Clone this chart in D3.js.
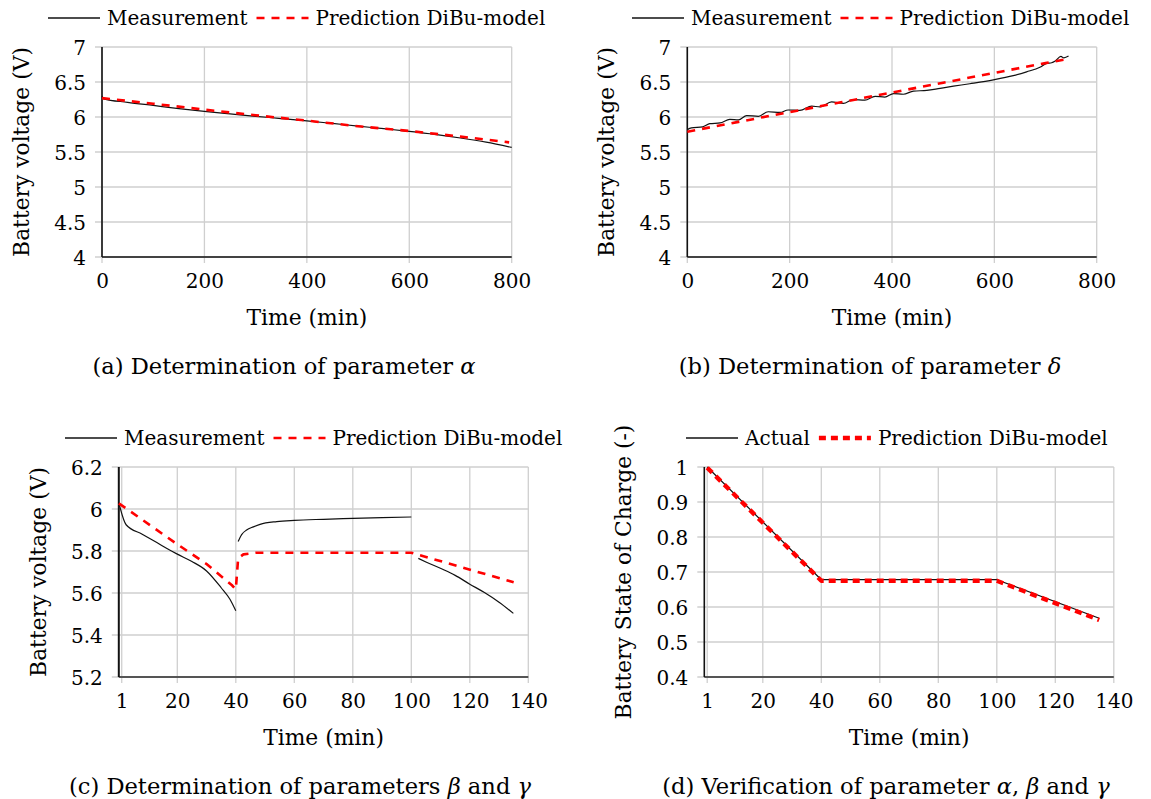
<!DOCTYPE html>
<html>
<head>
<meta charset="utf-8">
<script src="https://cdn.jsdelivr.net/npm/d3@7"></script>
<style>
  body { margin: 0; background: #fff; }
  text { font-family: 'DejaVu Serif', serif; fill: #000; }
</style>
</head>
<body>
<svg id="fig" width="1151" height="799"></svg>
<script>
// ---------- (a) discharge run, parameter alpha ----------
const timeA_meas = [0, 3, 50, 100, 150, 200, 250, 300, 350, 400, 450, 500, 550, 600, 650, 700, 750, 800];
const voltA_meas = [6.30, 6.26, 6.21, 6.165, 6.12, 6.08, 6.045, 6.01, 5.978, 5.945, 5.908, 5.87, 5.833, 5.795, 5.752, 5.70, 5.64, 5.565];
const timeA_pred = [0, 100, 200, 300, 400, 500, 600, 700, 795];
const voltA_pred = [6.27, 6.19, 6.105, 6.025, 5.948, 5.868, 5.80, 5.72, 5.638];

// ---------- (b) charge run, parameter delta ----------
const timeB_meas = [0, 8, 30, 44, 64, 83, 100, 116, 139, 158, 181, 197, 220, 243, 259, 282, 305, 324, 347, 367, 386, 403, 422, 442, 468, 494, 520, 552, 598, 637, 663, 689, 702, 712, 719, 730, 736, 745];
const voltB_meas = [5.82, 5.845, 5.86, 5.905, 5.915, 5.965, 5.96, 6.02, 6.01, 6.075, 6.065, 6.10, 6.095, 6.155, 6.145, 6.215, 6.195, 6.25, 6.24, 6.295, 6.285, 6.335, 6.325, 6.37, 6.38, 6.41, 6.44, 6.475, 6.53, 6.59, 6.645, 6.71, 6.765, 6.775, 6.80, 6.865, 6.845, 6.87];
const timeB_pred = [0, 100, 200, 300, 400, 500, 600, 700, 745];
const voltB_pred = [5.79, 5.93, 6.07, 6.21, 6.35, 6.49, 6.63, 6.77, 6.83];

// ---------- (c) pulsed run, parameters beta and gamma (null = gap) ----------
const timeC_meas = [0, 2.5, 8, 13, 18, 20, 25, 30, 35, 38, 40, null, 40.8, 42, 43.7, 46, 48.3, 54, 60, 70, 80, 90, 100, null, 102.4, 105, 110.9, 115, 120, 125, 130, 134.9];
const voltC_meas = [6.03, 5.925, 5.88, 5.84, 5.80, 5.785, 5.75, 5.705, 5.625, 5.57, 5.515, null, 5.845, 5.878, 5.90, 5.915, 5.927, 5.94, 5.946, 5.951, 5.955, 5.959, 5.962, null, 5.765, 5.748, 5.712, 5.684, 5.642, 5.602, 5.556, 5.503];
const timeC_pred = [0, 20, 30, 38.6, 40, 40.8, 42.6, 47, 100, 135];
const voltC_pred = [6.027, 5.832, 5.738, 5.638, 5.618, 5.765, 5.784, 5.792, 5.792, 5.651];

// ---------- (d) state of charge ----------
const timeD_act = [1, 40, 100, 135];
const socD_act = [1.0, 0.678, 0.678, 0.568];
const timeD_pred = [1, 40, 100, 135];
const socD_pred = [0.998, 0.675, 0.675, 0.563];

// ---------- tick labels ----------
const ticksVoltAB = [4, 4.5, 5, 5.5, 6, 6.5, 7];
const ticksTimeAB = [0, 200, 400, 600, 800];
const ticksVoltC = [5.2, 5.4, 5.6, 5.8, 6, 6.2];
const ticksSocD = [0.4, 0.5, 0.6, 0.7, 0.8, 0.9, 1];
const ticksTimeCD = [1, 20, 40, 60, 80, 100, 120, 140];

const svg = d3.select("#fig");
svg.append("rect").attr("width", 1151).attr("height", 799).attr("fill", "#fff");

const STYLES = {
  meas: { stroke: "#111", width: 1.2, dash: null },
  pred: { stroke: "#ff0000", width: 2.6, dash: "8,7" },
  predBold: { stroke: "#ff0000", width: 4.4, dash: "7,5" }
};

const TICK_FS = 20, LEGEND_FS = 20, TITLE_FS = 21.8, CAPTION_FS = 22.6;

function zip(ts, vs) { return ts.map((t, i) => [t, vs[i]]); }

function drawPanel(cfg) {
  const g = svg.append("g");
  const x = d3.scaleLinear().domain(cfg.xDomain).range([cfg.left, cfg.right]);
  const y = d3.scaleLinear().domain(cfg.yDomain).range([cfg.bottom, cfg.top]);

  // grid
  g.append("g").selectAll("line").data(cfg.xTicks).join("line")
    .attr("x1", d => x(d)).attr("x2", d => x(d))
    .attr("y1", cfg.top).attr("y2", cfg.bottom + 6)
    .attr("stroke", "#cfcfcf").attr("stroke-width", 1.3);
  g.append("g").selectAll("line").data(cfg.yTicks).join("line")
    .attr("x1", cfg.left - 7).attr("x2", cfg.right)
    .attr("y1", d => y(d)).attr("y2", d => y(d))
    .attr("stroke", "#cfcfcf").attr("stroke-width", 1.3);

  // axis lines
  g.append("line").attr("x1", cfg.left).attr("x2", cfg.right)
    .attr("y1", cfg.bottom).attr("y2", cfg.bottom)
    .attr("stroke", cfg.bottomColor).attr("stroke-width", cfg.bottomWidth);
  g.append("line").attr("x1", cfg.left).attr("x2", cfg.left)
    .attr("y1", cfg.top).attr("y2", cfg.bottom)
    .attr("stroke", "#111").attr("stroke-width", cfg.leftWidth);

  // tick labels
  const xa = d3.axisBottom(x).tickValues(cfg.xTicks).tickSize(0).tickPadding(0).tickFormat(d => String(d));
  const xg = g.append("g").attr("transform", `translate(0,${cfg.bottom})`).call(xa);
  xg.select(".domain").remove();
  xg.selectAll("text").attr("y", 31).attr("dy", null).attr("font-size", TICK_FS)
    .attr("font-family", "'DejaVu Serif', serif").attr("fill", "#000");

  const ya = d3.axisLeft(y).tickValues(cfg.yTicks).tickSize(0).tickPadding(0).tickFormat(d => String(d));
  const yg = g.append("g").attr("transform", `translate(${cfg.left},0)`).call(ya);
  yg.select(".domain").remove();
  yg.selectAll("text").attr("x", -16).attr("dy", "0.36em").attr("font-size", TICK_FS)
    .attr("font-family", "'DejaVu Serif', serif").attr("fill", "#000");

  // data lines
  cfg.series.forEach(s => {
    const st = STYLES[s.style];
    const line = d3.line()
      .defined(d => d[0] !== null && d[1] !== null)
      .x(d => x(d[0])).y(d => y(d[1]))
      .curve(s.smooth ? d3.curveMonotoneX : d3.curveLinear);
    g.append("path").datum(zip(s.t, s.v))
      .attr("d", line).attr("fill", "none")
      .attr("stroke", st.stroke).attr("stroke-width", st.width)
      .attr("stroke-dasharray", st.dash)
      .attr("stroke-linejoin", "round");
  });

  // axis titles
  g.append("text").attr("x", (cfg.left + cfg.right) / 2).attr("y", cfg.bottom + 68)
    .attr("text-anchor", "middle").attr("font-size", TITLE_FS).text("Time (min)");
  g.append("text")
    .attr("transform", `translate(${cfg.left - 73},${(cfg.top + cfg.bottom) / 2}) rotate(-90)`)
    .attr("text-anchor", "middle").attr("font-size", TITLE_FS).text(cfg.yTitle);

  // legend
  let lx = cfg.legendX;
  const ly = cfg.top - 29;
  cfg.legend.forEach(item => {
    const st = STYLES[item.style];
    g.append("line").attr("x1", lx).attr("x2", lx + 52).attr("y1", ly).attr("y2", ly)
      .attr("stroke", st.stroke).attr("stroke-width", item.style === "meas" ? 1.5 : st.width)
      .attr("stroke-dasharray", st.dash);
    const t = g.append("text").attr("x", lx + 59).attr("y", cfg.top - 22)
      .attr("font-size", LEGEND_FS).text(item.label);
    lx = lx + 59 + t.node().getComputedTextLength() + 9;
  });

  // caption
  const cap = g.append("text").attr("x", cfg.captionX).attr("y", cfg.captionY)
    .attr("text-anchor", "middle").attr("font-size", CAPTION_FS);
  cfg.caption.forEach(([s, it]) => {
    cap.append("tspan").attr("font-style", it ? "italic" : null).text(s);
  });
}

const legendMP = [
  { label: "Measurement", style: "meas" },
  { label: "Prediction DiBu-model", style: "pred" }
];

drawPanel({
  left: 102, right: 511.7, top: 47, bottom: 257,
  xDomain: [0, 800], yDomain: [4, 7],
  xTicks: ticksTimeAB, yTicks: ticksVoltAB,
  bottomColor: "#111", bottomWidth: 1.4, leftWidth: 1.6,
  series: [
    { t: timeA_meas, v: voltA_meas, style: "meas", smooth: true },
    { t: timeA_pred, v: voltA_pred, style: "pred" }
  ],
  yTitle: "Battery voltage (V)",
  legendX: 48, legend: legendMP,
  caption: [["(a) Determination of parameter ", false], ["α", true]],
  captionX: 284, captionY: 374
});

drawPanel({
  left: 687.3, right: 1096.7, top: 47, bottom: 257,
  xDomain: [0, 800], yDomain: [4, 7],
  xTicks: ticksTimeAB, yTicks: ticksVoltAB,
  bottomColor: "#111", bottomWidth: 1.4, leftWidth: 1.6,
  series: [
    { t: timeB_meas, v: voltB_meas, style: "meas", smooth: true },
    { t: timeB_pred, v: voltB_pred, style: "pred" }
  ],
  yTitle: "Battery voltage (V)",
  legendX: 632, legend: legendMP,
  caption: [["(b) Determination of parameter ", false], ["δ", true]],
  captionX: 870, captionY: 374
});

drawPanel({
  left: 118.8, right: 528.3, top: 467, bottom: 677,
  xDomain: [0, 140], yDomain: [5.2, 6.2],
  xTicks: ticksTimeCD, yTicks: ticksVoltC,
  bottomColor: "#555", bottomWidth: 2.2, leftWidth: 2,
  series: [
    { t: timeC_meas, v: voltC_meas, style: "meas", smooth: true },
    { t: timeC_pred, v: voltC_pred, style: "pred" }
  ],
  yTitle: "Battery voltage (V)",
  legendX: 65, legend: legendMP,
  caption: [["(c) Determination of parameters ", false], ["β", true], [" and ", false], ["γ", true]],
  captionX: 300, captionY: 794
});

drawPanel({
  left: 704.3, right: 1113.8, top: 467, bottom: 677,
  xDomain: [0, 140], yDomain: [0.4, 1.0],
  xTicks: ticksTimeCD, yTicks: ticksSocD,
  bottomColor: "#555", bottomWidth: 2.2, leftWidth: 1.6,
  series: [
    { t: timeD_act, v: socD_act, style: "meas" },
    { t: timeD_pred, v: socD_pred, style: "predBold" }
  ],
  yTitle: "Battery State of Charge (-)",
  legendX: 686,
  legend: [
    { label: "Actual", style: "meas" },
    { label: "Prediction DiBu-model", style: "predBold" }
  ],
  caption: [["(d) Verification of parameter ", false], ["α", true], [", ", false], ["β", true], [" and ", false], ["γ", true]],
  captionX: 886, captionY: 794
});
</script>
</body>
</html>
